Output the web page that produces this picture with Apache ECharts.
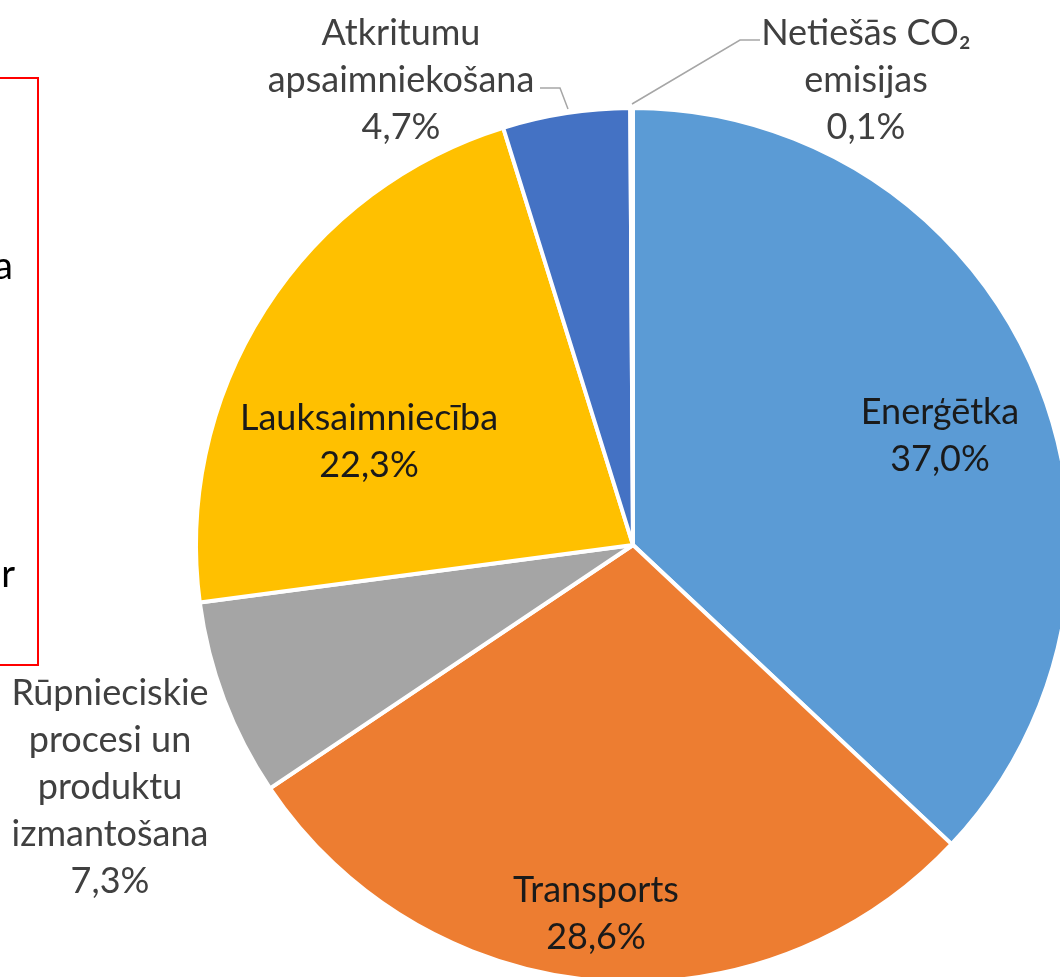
<!DOCTYPE html>
<html>
<head>
<meta charset="utf-8">
<script src="https://cdn.jsdelivr.net/npm/echarts@6/dist/echarts.min.js"></script>
<style>
	html, body { margin: 0; padding: 0; background: #ffffff; }
	#chart { width: 1060px; height: 977px; }
</style>
</head>
<body>
<div id="chart"></div>
<script>
// nozares un to daļas (%)
var sectorNames = ['Enerģētka', 'Transports', 'Rūpnieciskie\nprocesi un\nproduktu\nizmantošana', 'Lauksaimniecība', 'Atkritumu\napsaimniekošana', 'Netiešās CO₂\nemisijas'];
var sectorValues = [37.0, 28.6, 7.3, 22.3, 4.7, 0.1];
var sectorColors = ['#5B9BD5', '#ED7D31', '#A5A5A5', '#FFC000', '#4472C4', '#70AD47'];

// etiķešu centri (px) un vai tā ir iekšā
var labelPos = [[940, 436], [596, 914], [110, 787], [369, 442], [401, 80], [866, 80]];
var labelInside = [true, true, false, true, false, false];
// līniju lauzumi ārējām etiķetēm
var linePoints = {
	4: [[568, 109], [560, 88], [540, 88]],
	5: [[632, 104], [740, 40], [760, 40]]
};

var dom = document.getElementById('chart');
var myChart = echarts.init(dom);

var data = [];
for (var i = 0; i < sectorNames.length; i++) {
	data.push({
		name: sectorNames[i],
		value: sectorValues[i],
		itemStyle: { color: sectorColors[i] },
		label: { color: labelInside[i] ? '#1a1a1a' : '#404040' },
		labelLine: { show: (i == 4 || i == 5) }
	});
}

var option = {
	animation: false,
	graphic: [
		{
			type: 'rect',
			shape: { x: -10, y: 78, width: 48, height: 587 },
			style: { fill: 'none', stroke: '#FF0000', lineWidth: 2 }
		},
		{
			type: 'text',
			x: 13, y: 286,
			style: { text: 'a', align: 'right', verticalAlign: 'bottom', font: '38px Lato', fill: '#000000' }
		},
		{
			type: 'text',
			x: 15, y: 594,
			style: { text: 'r', align: 'right', verticalAlign: 'bottom', font: '38px Lato', fill: '#000000' }
		}
	],
	series: [{
		type: 'pie',
		center: [633, 545],
		radius: 437,
		startAngle: 90,
		clockwise: true,
		percentPrecision: 1,
		itemStyle: {
			borderColor: '#ffffff',
			borderWidth: 4
		},
		label: {
			show: true,
			fontFamily: 'Lato',
			fontSize: 36,
			lineHeight: 47,
			align: 'center',
			overflow: 'none',
			formatter: function (params) {
				return params.name + '\n' + params.value.toFixed(1).replace('.', ',') + '%';
			}
		},
		labelLine: {
			lineStyle: { color: '#A6A6A6', width: 1.5 }
		},
		labelLayout: function (params) {
			var p = labelPos[params.dataIndex];
			var res = {
				x: p[0],
				y: p[1],
				align: 'center',
				verticalAlign: 'middle',
				width: 400
			};
			if (linePoints[params.dataIndex]) {
				res.labelLinePoints = linePoints[params.dataIndex];
			}
			return res;
		},
		emphasis: { disabled: true },
		data: data
	}]
};
myChart.setOption(option);
</script>
</body>
</html>
